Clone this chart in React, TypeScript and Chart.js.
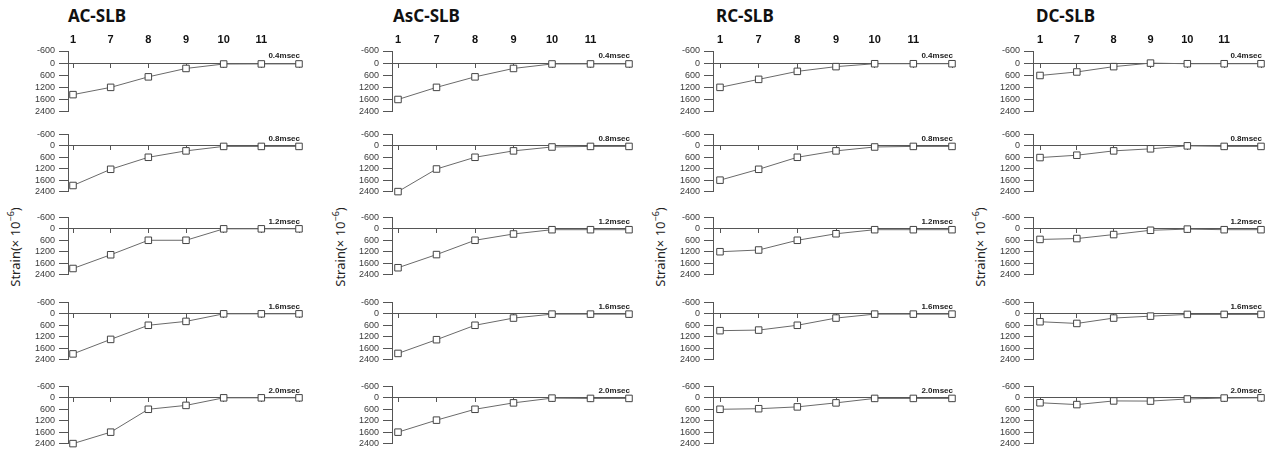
import React, { useEffect, useRef } from "react";
import { Chart, registerables } from "chart.js";

Chart.register(...registerables);

// ---------------- data ----------------
const specimens = ["AC-SLB", "AsC-SLB", "RC-SLB", "DC-SLB"];
const timeLabels = ["0.4msec", "0.8msec", "1.2msec", "1.6msec", "2.0msec"];
const xCategories = ["1", "7", "8", "9", "10", "11", ""];
const yTickLabels = ["-600", "0", "600", "1200", "1600", "2400"];
const yMin = -600;
const yMax = 2400;
const yStep = 600;
const yTitle = "Strain(× 10";
const yTitleSup = "−6";

// values expressed on the evenly spaced strain axis (one tick = 600)
const acValues = [
  [1560, 1200, 680, 264, 45, 40, 40],
  [2080, 1230, 600, 264, 30, 30, 30],
  [2080, 1360, 600, 600, 0, 0, 0],
  [2100, 1340, 600, 396, 0, 0, 0],
  [2400, 1800, 600, 396, 0, 0, 0],
];
const ascValues = [
  [1800, 1200, 680, 264, 42, 40, 40],
  [2400, 1215, 600, 264, 60, 30, 30],
  [2040, 1350, 600, 270, 45, 45, 45],
  [2076, 1356, 600, 222, 15, 15, 15],
  [1800, 1170, 600, 264, 15, 30, 30],
];
const rcValues = [
  [1200, 804, 408, 174, 30, 30, 30],
  [1800, 1230, 600, 264, 60, 30, 30],
  [1200, 1110, 600, 258, 45, 45, 45],
  [882, 852, 600, 222, 15, 15, 15],
  [600, 570, 474, 264, 30, 30, 30],
];
const dcValues = [
  [612, 438, 174, 0, 30, 30, 30],
  [615, 492, 264, 156, 0, 30, 30],
  [555, 510, 300, 75, 15, 45, 45],
  [414, 504, 222, 120, 30, 30, 30],
  [258, 354, 162, 170, 60, 12, 0],
];
const seriesBySpecimen = [acValues, ascValues, rcValues, dcValues];

// ---------------- layout ----------------
const columns = [
  { axisX: 68, firstX: 73, lastX: 299, titleX: 68, labelX: 12.5 },
  { axisX: 392, firstX: 398, lastX: 629, titleX: 393, labelX: 337.5 },
  { axisX: 713, firstX: 720, lastX: 952, titleX: 716, labelX: 657.5 },
  { axisX: 1033, firstX: 1040, lastX: 1261, titleX: 1036, labelX: 977.5 },
];
const rowTops = [51, 131, 214, 299, 383];
const plotH = 64;
const Y_W = 60;
const PAD_R = 8;
const PAD_T = 6;
const PAD_B = 6;
const TOP_AXIS_H = 24;

const tickFont = "'Liberation Sans', Arial, sans-serif";

const msecPlugin = {
  id: "msecLabel",
  afterDatasetsDraw(chart: any, _args: any, opts: any) {
    const { ctx, scales } = chart;
    const x = scales.x.getPixelForValue(xCategories.length - 1);
    const y = scales.y.getPixelForValue(0) - 5;
    ctx.save();
    ctx.font = `bold 8px ${tickFont}`;
    ctx.fillStyle = "#222";
    ctx.textAlign = "right";
    ctx.textBaseline = "alphabetic";
    ctx.fillText(opts.text, x + 1, y);
    ctx.restore();
  },
};

function SubChart({ col, row }: { col: number; row: number }) {
  const ref = useRef<HTMLCanvasElement | null>(null);
  const c = columns[col];
  const topSpace = row === 0 ? PAD_T + TOP_AXIS_H : PAD_T;
  const w = Y_W + (c.lastX - c.axisX) + PAD_R;
  const h = topSpace + plotH + PAD_B;
  const span = c.lastX - c.axisX;
  const gap = c.firstX - c.axisX;
  const last = xCategories.length - 1;
  const xMin = (-last * gap) / (span - gap);

  useEffect(() => {
    if (!ref.current) return;
    const values = seriesBySpecimen[col][row];
    const buildX = (s: any) => {
      s.ticks = xCategories.map((_, i) => ({ value: i }));
    };
    const scales: any = {
      x: {
        type: "linear",
        position: { y: 0 },
        min: xMin,
        max: last,
        afterBuildTicks: buildX,
        ticks: { display: false },
        grid: {
          display: true,
          drawOnChartArea: false,
          drawTicks: true,
          tickLength: 4,
          color: "#555",
          lineWidth: 1,
        },
        border: { display: true, color: "#555", width: 1 },
      },
      y: {
        type: "linear",
        reverse: true,
        min: yMin,
        max: yMax,
        afterBuildTicks: (s: any) => {
          s.ticks = yTickLabels.map((_, i) => ({ value: yMin + i * yStep }));
        },
        ticks: {
          callback: (v: any) => yTickLabels[Math.round((v - yMin) / yStep)],
          font: { family: tickFont, size: 9 },
          color: "#3a3a3a",
          padding: 4,
          autoSkip: false,
        },
        grid: {
          drawOnChartArea: false,
          drawTicks: true,
          tickLength: 9,
          color: "#555",
        },
        border: { display: true, color: "#555", width: 1 },
        afterFit: (s: any) => {
          s.width = Y_W;
        },
      },
    };
    if (row === 0) {
      scales.x2 = {
        type: "linear",
        position: "top",
        min: xMin,
        max: last,
        afterBuildTicks: buildX,
        ticks: {
          callback: (v: any) => xCategories[v] ?? "",
          font: { family: tickFont, size: 11, weight: "bold" },
          color: "#111",
          padding: 4,
          maxRotation: 0,
          autoSkip: false,
        },
        grid: { display: false, drawTicks: false },
        border: { display: false },
        afterFit: (s: any) => {
          s.height = TOP_AXIS_H;
        },
      };
    }
    const chart = new Chart(ref.current, {
      type: "line",
      data: {
        datasets: [
          {
            data: values.map((v, i) => ({ x: i, y: v })),
            borderColor: "#6a6a6a",
            borderWidth: 1,
            pointStyle: "rect",
            pointRadius: 4.6,
            pointBorderColor: "#444",
            pointBackgroundColor: "#fff",
            pointBorderWidth: 1,
            tension: 0,
            clip: false as any,
          },
        ],
      },
      options: {
        animation: false,
        responsive: false,
        devicePixelRatio: 1,
        layout: { padding: { top: PAD_T, bottom: PAD_B, left: 0, right: PAD_R } },
        plugins: {
          legend: { display: false },
          tooltip: { enabled: false },
          title: { display: false },
          msecLabel: { text: timeLabels[row] },
        } as any,
        scales,
      },
      plugins: [msecPlugin],
    });
    return () => chart.destroy();
  }, [col, row]);

  return (
    <canvas
      ref={ref}
      width={w}
      height={h}
      style={{
        position: "absolute",
        left: c.axisX - Y_W,
        top: rowTops[row] - topSpace,
        width: w,
        height: h,
      }}
    />
  );
}

export default function App() {
  return (
    <div
      style={{
        position: "absolute",
        left: 0,
        top: 0,
        width: 1275,
        height: 455,
        background: "#fff",
        overflow: "hidden",
      }}
    >
      {specimens.map((name, col) => (
        <React.Fragment key={name}>
          <div
            style={{
              position: "absolute",
              left: columns[col].titleX,
              top: 6.5,
              fontFamily: "'Noto Sans', sans-serif",
              fontWeight: "bold",
              fontSize: 17,
              lineHeight: "17px",
              color: "#111",
              whiteSpace: "nowrap",
            }}
          >
            {name}
          </div>
          <div
            style={{
              position: "absolute",
              left: columns[col].labelX,
              top: 247,
              transform: "translate(-50%, -50%) rotate(-90deg)",
              fontFamily: "'Noto Sans', sans-serif",
              fontSize: 13,
              lineHeight: "16px",
              color: "#222",
              whiteSpace: "nowrap",
            }}
          >
            {yTitle}
            <sup style={{ fontSize: 9 }}>{yTitleSup}</sup>)
          </div>
          {timeLabels.map((t, row) => (
            <SubChart key={t} col={col} row={row} />
          ))}
        </React.Fragment>
      ))}
    </div>
  );
}
